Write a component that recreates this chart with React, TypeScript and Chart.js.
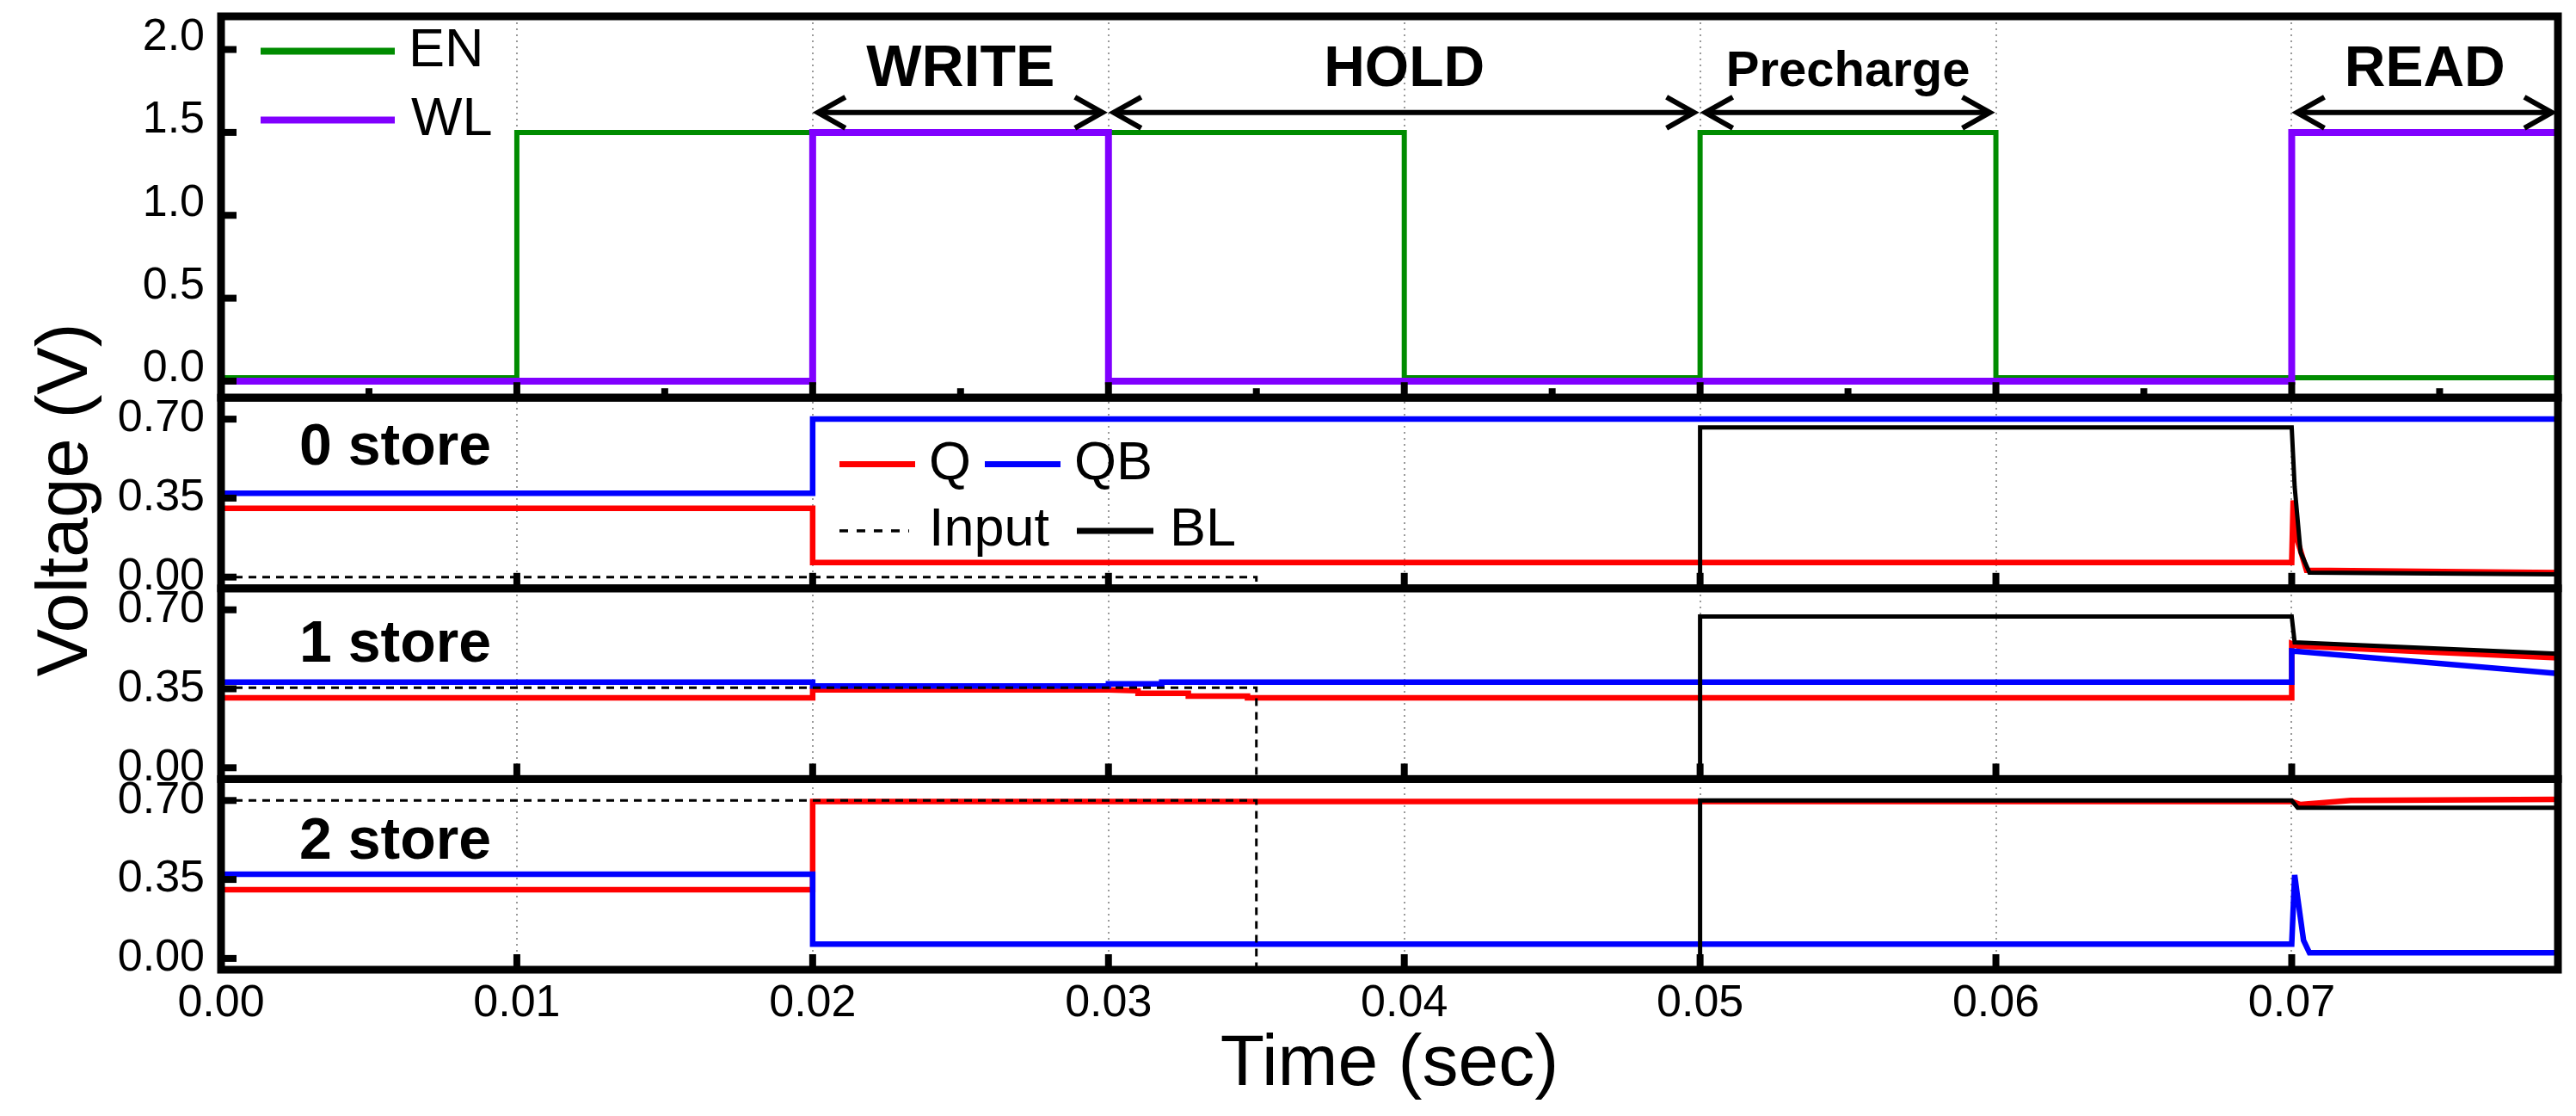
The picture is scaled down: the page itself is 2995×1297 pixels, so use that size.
import React, { useEffect, useRef } from 'react';
import { Chart, registerables } from 'chart.js';

Chart.register(...registerables);

const FONT = "'Liberation Sans', Arial, Helvetica, sans-serif";

// ---- axes ----
const X_MIN = 0;
const X_MAX = 0.079;
const X_TICKS = [0, 0.01, 0.02, 0.03, 0.04, 0.05, 0.06, 0.07];
const X_MINOR_TICKS = [0.005, 0.015, 0.025, 0.035, 0.045, 0.055, 0.065, 0.075];
const TOP_TICKS = [0, 0.5, 1.0, 1.5, 2.0];
const LOW_TICKS = [0, 0.35, 0.7];
const TOP_MIN = -0.1;
const TOP_MAX = 2.2;
const LOW_MIN = -0.05;
const LOW_MAX = 0.795;

// ---- top panel: control signals ----
const EN_T = [0, 0.01, 0.01, 0.04, 0.04, 0.05, 0.05, 0.06, 0.06, 0.079];
const EN_V = [0.02, 0.02, 1.5, 1.5, 0.02, 0.02, 1.5, 1.5, 0.02, 0.02];
const WL_T = [0, 0.02, 0.02, 0.03, 0.03, 0.07, 0.07, 0.079];
const WL_V = [0, 0, 1.5, 1.5, 0, 0, 1.5, 1.5];

// ---- "0 store" ----
const Q0_T = [0, 0.02, 0.02, 0.07, 0.07005, 0.0702, 0.0705, 0.079];
const Q0_V = [0.305, 0.305, 0.065, 0.065, 0.34, 0.16, 0.03, 0.02];
const QB0_T = [0, 0.02, 0.02, 0.079];
const QB0_V = [0.372, 0.372, 0.7, 0.7];
const IN0_T = [0, 0.035, 0.035];
const IN0_V = [0, 0, -0.05];
const BL0_T = [0.05, 0.05, 0.07, 0.0701, 0.0703, 0.0706, 0.079];
const BL0_V = [0, 0.663, 0.663, 0.4, 0.11, 0.02, 0.012];

// ---- "1 store" ----
const Q1_T = [0, 0.02, 0.02, 0.03, 0.031, 0.031, 0.0327, 0.0327, 0.0347, 0.0347, 0.07, 0.07, 0.0702, 0.079];
const Q1_V = [0.31, 0.31, 0.345, 0.345, 0.341, 0.33, 0.33, 0.318, 0.318, 0.31, 0.31, 0.55, 0.54, 0.487];
const QB1_T = [0, 0.02, 0.02, 0.03, 0.03, 0.0318, 0.0318, 0.07, 0.07, 0.079];
const QB1_V = [0.38, 0.38, 0.362, 0.362, 0.372, 0.372, 0.38, 0.38, 0.518, 0.418];
const IN1_T = [0, 0.035, 0.035];
const IN1_V = [0.355, 0.355, -0.05];
const BL1_T = [0.05, 0.05, 0.07, 0.0701, 0.079];
const BL1_V = [0, 0.67, 0.67, 0.556, 0.505];

// ---- "2 store" ----
const Q2_T = [0, 0.02, 0.02, 0.07, 0.0703, 0.072, 0.079];
const Q2_V = [0.305, 0.305, 0.695, 0.695, 0.682, 0.7, 0.705];
const QB2_T = [0, 0.02, 0.02, 0.07, 0.0701, 0.0702, 0.0704, 0.0706, 0.079];
const QB2_V = [0.373, 0.373, 0.063, 0.063, 0.37, 0.27, 0.08, 0.025, 0.025];
const IN2_T = [0, 0.035, 0.035];
const IN2_V = [0.7, 0.7, -0.05];
const BL2_T = [0.05, 0.05, 0.07, 0.0702, 0.0705, 0.079];
const BL2_V = [0, 0.7, 0.7, 0.668, 0.668, 0.668];

// ---- annotations ----
const PHASE_NAMES = ['WRITE', 'HOLD', 'Precharge', 'READ'];
const PHASE_START = [0.02, 0.03, 0.05, 0.07];
const PHASE_END = [0.03, 0.05, 0.06, 0.079];
const PANEL_NAMES = ['0 store', '1 store', '2 store'];
const PANEL_LABEL_V = [0.5, 0.47, 0.44];

const C_EN = '#008c00';
const C_WL = '#8000ff';
const C_Q = '#ff0000';
const C_QB = '#0000ff';
const C_K = '#000000';

function series(label: string, T: number[], V: number[], color: string, width: number, yAxisID: string, dash: number[] = []) {
  return {
    label,
    data: T.map((t, i) => ({ x: t, y: V[i] })),
    borderColor: color,
    backgroundColor: color,
    borderWidth: width,
    borderDash: dash,
    borderJoinStyle: 'miter' as const,
    borderCapStyle: 'butt' as const,
    pointRadius: 0,
    pointHoverRadius: 0,
    tension: 0,
    fill: false,
    xAxisID: 'x',
    yAxisID,
  };
}

function yAxis(weight: number, stackWeight: number, min: number, max: number, ticks: number[], digits: number, labelOffset: number) {
  return {
    type: 'linear' as const,
    position: 'left' as const,
    stack: 'v',
    stackWeight,
    weight,
    min,
    max,
    afterBuildTicks: (s: any) => {
      s.ticks = ticks.map((v) => ({ value: v }));
    },
    afterFit: (s: any) => {
      s.width = 257;
      s.paddingTop = 0;
      s.paddingBottom = 0;
    },
    ticks: {
      callback: (v: any) => Number(v).toFixed(digits),
      font: { family: FONT, size: 52 },
      color: '#000',
      padding: 19,
      autoSkip: false,
      labelOffset,
    },
    grid: { display: false, drawTicks: false },
    border: { display: false },
  };
}

function drawArrow(ctx: CanvasRenderingContext2D, x1: number, x2: number, y: number) {
  const hl = 32;
  const hh = 18;
  ctx.beginPath();
  ctx.moveTo(x1, y);
  ctx.lineTo(x2, y);
  ctx.stroke();
  ctx.beginPath();
  ctx.moveTo(x1 + hl, y - hh);
  ctx.lineTo(x1, y);
  ctx.lineTo(x1 + hl, y + hh);
  ctx.stroke();
  ctx.beginPath();
  ctx.moveTo(x2 - hl, y - hh);
  ctx.lineTo(x2, y);
  ctx.lineTo(x2 - hl, y + hh);
  ctx.stroke();
}

const decorPlugin = {
  id: 'decor',
  afterDatasetsDraw(chart: any) {
    const ctx: CanvasRenderingContext2D = chart.ctx;
    const xs = chart.scales.x;
    const ids = ['yTop', 'y0', 'y1', 'y2'];
    const panels = ids.map((id) => chart.scales[id]);
    const L = xs.left;
    ctx.save();
    ctx.strokeStyle = '#000';
    ctx.fillStyle = '#000';

    // inward ticks
    ctx.lineCap = 'butt';
    ctx.lineWidth = 8;
    panels.forEach((s: any, i: number) => {
      s.ticks.forEach((t: any) => {
        const y = s.getPixelForValue(t.value);
        ctx.beginPath();
        ctx.moveTo(L, y);
        ctx.lineTo(L + 18, y);
        ctx.stroke();
      });
      X_TICKS.forEach((v) => {
        const x = xs.getPixelForValue(v);
        ctx.beginPath();
        ctx.moveTo(x, s.bottom);
        ctx.lineTo(x, s.bottom - 18);
        ctx.stroke();
      });
      if (i === 0) {
        X_MINOR_TICKS.forEach((v) => {
          const x = xs.getPixelForValue(v);
          ctx.beginPath();
          ctx.moveTo(x, s.bottom);
          ctx.lineTo(x, s.bottom - 11);
          ctx.stroke();
        });
      }
    });

    // frames
    ctx.lineWidth = 9;
    ctx.lineJoin = 'miter';
    panels.forEach((s: any) => {
      ctx.strokeRect(xs.left, s.top, xs.right - xs.left, s.bottom - s.top);
    });

    // phase arrows & labels
    const yT = chart.scales.yTop;
    const arrowY = yT.getPixelForValue(1.62);
    const textY = yT.getPixelForValue(1.78);
    ctx.lineWidth = 6;
    ctx.lineJoin = 'miter';
    PHASE_NAMES.forEach((name, i) => {
      const x1 = xs.getPixelForValue(PHASE_START[i]) + 6;
      const x2 = Math.min(xs.getPixelForValue(PHASE_END[i]), xs.right) - 7;
      drawArrow(ctx, x1, x2, arrowY);
      const size = name === 'Precharge' ? 58 : name === 'WRITE' ? 68 : 66;
      ctx.font = `bold ${size}px ${FONT}`;
      ctx.textAlign = 'center';
      ctx.textBaseline = 'alphabetic';
      ctx.fillText(name, xs.getPixelForValue((PHASE_START[i] + PHASE_END[i]) / 2), textY);
    });

    // panel labels
    ctx.font = `bold 68px ${FONT}`;
    ctx.textAlign = 'left';
    ctx.textBaseline = 'alphabetic';
    PANEL_NAMES.forEach((name, i) => {
      const s = panels[i + 1];
      ctx.fillText(name, L + 91, s.getPixelForValue(PANEL_LABEL_V[i]));
    });

    // legends
    const legendLine = (xa: number, xb: number, y: number, color: string, w: number, dash: number[] = []) => {
      ctx.save();
      ctx.strokeStyle = color;
      ctx.lineWidth = w;
      ctx.setLineDash(dash);
      ctx.beginPath();
      ctx.moveTo(xa, y);
      ctx.lineTo(xb, y);
      ctx.stroke();
      ctx.restore();
    };
    ctx.font = `63px ${FONT}`;
    ctx.textAlign = 'left';
    ctx.textBaseline = 'middle';
    const yEN = yT.getPixelForValue(1.99);
    const yWL = yT.getPixelForValue(1.575);
    legendLine(L + 46, L + 202, yEN, C_EN, 8);
    ctx.fillText('EN', L + 218, yEN);
    legendLine(L + 46, L + 202, yWL, C_WL, 8);
    ctx.fillText('WL', L + 221, yWL);

    const y0 = chart.scales.y0;
    const r1 = y0.getPixelForValue(0.5);
    const r2 = y0.getPixelForValue(0.205);
    legendLine(L + 719, L + 807, r1, C_Q, 7);
    ctx.fillText('Q', L + 823, r1);
    legendLine(L + 888, L + 976, r1, C_QB, 7);
    ctx.fillText('QB', L + 992, r1);
    legendLine(L + 719, L + 800, r2, C_K, 3.5, [10, 10]);
    ctx.fillText('Input', L + 823, r2);
    legendLine(L + 995, L + 1084, r2, C_K, 7);
    ctx.fillText('BL', L + 1103, r2);

    // y title
    ctx.save();
    ctx.translate(78, 581);
    ctx.rotate(-Math.PI / 2);
    ctx.font = `83px ${FONT}`;
    ctx.textAlign = 'center';
    ctx.textBaseline = 'middle';
    ctx.fillText('Voltage (V)', 0, 0);
    ctx.restore();

    ctx.restore();
  },
};

export default function App() {
  const ref = useRef<HTMLCanvasElement>(null);
  useEffect(() => {
    if (!ref.current) return;
    const chart = new Chart(ref.current, {
      type: 'line',
      data: {
        datasets: [
          series('WL', WL_T, WL_V, C_WL, 8, 'yTop'),
          series('EN', EN_T, EN_V, C_EN, 6, 'yTop'),
          series('Input', IN0_T, IN0_V, C_K, 3, 'y0', [9, 7]),
          series('BL', BL0_T, BL0_V, C_K, 5, 'y0'),
          series('QB', QB0_T, QB0_V, C_QB, 6.5, 'y0'),
          series('Q', Q0_T, Q0_V, C_Q, 6.5, 'y0'),
          series('Input', IN1_T, IN1_V, C_K, 3, 'y1', [9, 7]),
          series('BL', BL1_T, BL1_V, C_K, 5, 'y1'),
          series('QB', QB1_T, QB1_V, C_QB, 6.5, 'y1'),
          series('Q', Q1_T, Q1_V, C_Q, 6.5, 'y1'),
          series('Input', IN2_T, IN2_V, C_K, 3, 'y2', [9, 7]),
          series('BL', BL2_T, BL2_V, C_K, 5, 'y2'),
          series('QB', QB2_T, QB2_V, C_QB, 6.5, 'y2'),
          series('Q', Q2_T, Q2_V, C_Q, 6.5, 'y2'),
        ] as any,
      },
      options: {
        animation: false,
        responsive: false,
        maintainAspectRatio: false,
        devicePixelRatio: 1,
        events: [],
        layout: { padding: { left: 0, top: 19, right: 21, bottom: 0 } },
        plugins: { legend: { display: false }, tooltip: { enabled: false }, title: { display: false } },
        scales: {
          x: {
            type: 'linear',
            min: X_MIN,
            max: X_MAX,
            afterBuildTicks: (s: any) => {
              s.ticks = X_TICKS.map((v) => ({ value: v }));
            },
            afterFit: (s: any) => {
              s.height = 170;
              s.paddingLeft = 0;
              s.paddingRight = 0;
            },
            ticks: {
              callback: (v: any) => Number(v).toFixed(2),
              font: { family: FONT, size: 52 },
              color: '#000',
              padding: 8,
              autoSkip: false,
              maxRotation: 0,
            },
            grid: { color: '#9a9a9a', lineWidth: 2, drawTicks: false },
            border: { display: false, dash: [2, 5] },
            title: {
              display: true,
              text: 'Time (sec)',
              font: { family: FONT, size: 84 },
              color: '#000',
              padding: { top: 0, bottom: 9 },
            },
          },
          yTop: yAxis(4, 2, TOP_MIN, TOP_MAX, TOP_TICKS, 1, -14),
          y0: yAxis(3, 1, LOW_MIN, LOW_MAX, LOW_TICKS, 2, 0),
          y1: yAxis(2, 1, LOW_MIN, LOW_MAX, LOW_TICKS, 2, 0),
          y2: yAxis(1, 1, LOW_MIN, LOW_MAX, LOW_TICKS, 2, 0),
        } as any,
      },
      plugins: [decorPlugin],
    });
    return () => chart.destroy();
  }, []);
  return (
    <div style={{ position: 'absolute', left: 0, top: 0, width: 2995, height: 1297, background: '#fff' }}>
      <canvas ref={ref} width={2995} height={1297} style={{ display: 'block', width: 2995, height: 1297 }} />
    </div>
  );
}
